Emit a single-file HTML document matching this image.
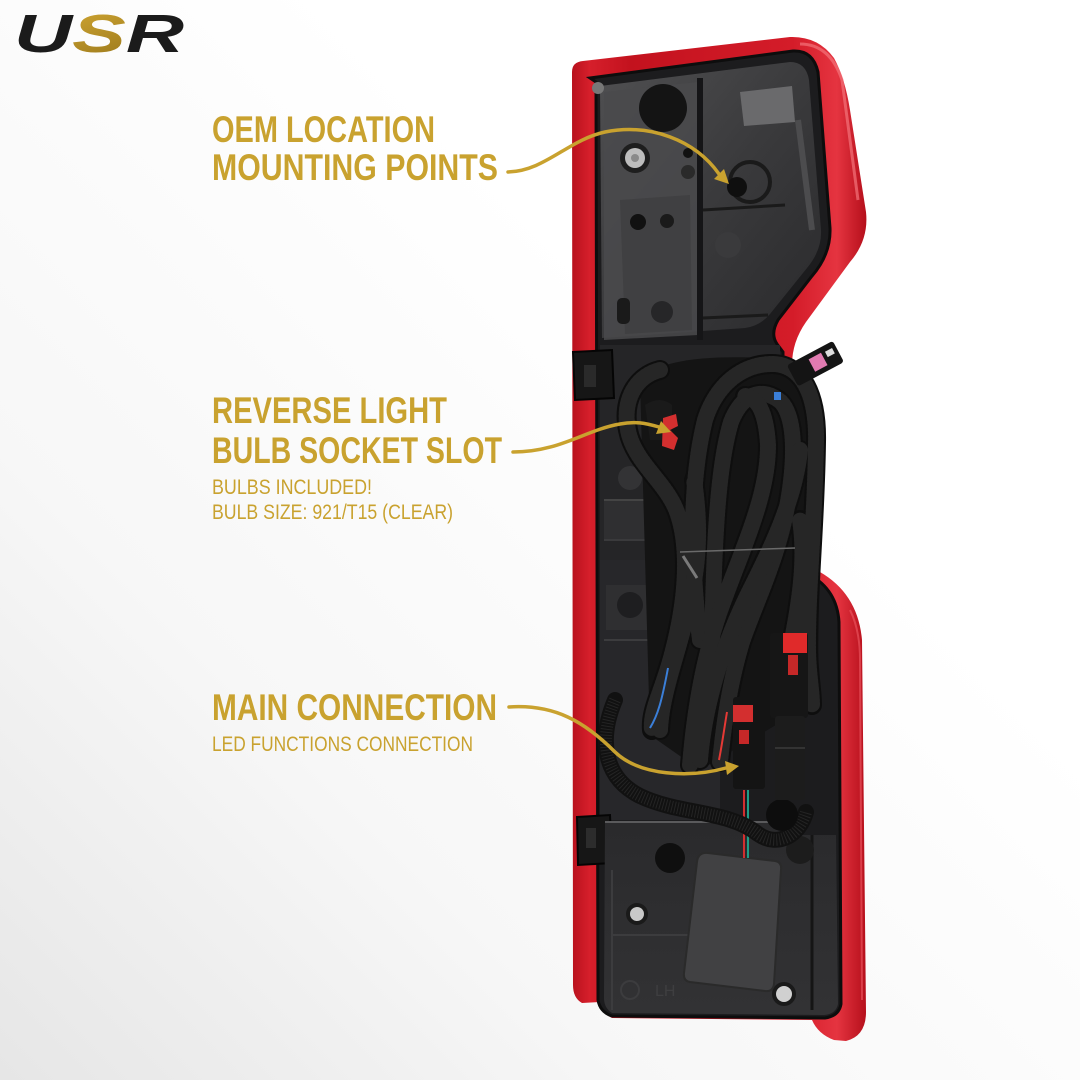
<!DOCTYPE html>
<html><head><meta charset="utf-8"><style>
html,body{margin:0;padding:0;background:#fff}
svg{display:block}
</style></head><body>
<svg width="1080" height="1080" viewBox="0 0 1080 1080" xmlns="http://www.w3.org/2000/svg">
<defs>
<linearGradient id="bg" x1="0.65" y1="0.35" x2="0" y2="1">
<stop offset="0" stop-color="#ffffff"/><stop offset="0.55" stop-color="#f7f7f7"/><stop offset="1" stop-color="#e6e6e6"/>
</linearGradient>
<linearGradient id="red" x1="0" y1="0" x2="1" y2="0">
<stop offset="0" stop-color="#b8111d"/><stop offset="0.06" stop-color="#d61f2b"/><stop offset="0.2" stop-color="#c3121e"/>
<stop offset="0.75" stop-color="#d41c29"/><stop offset="0.9" stop-color="#e53440"/><stop offset="1" stop-color="#b50f1b"/>
</linearGradient>
<linearGradient id="gold" x1="0" y1="0" x2="1" y2="1">
<stop offset="0" stop-color="#e0b43a"/><stop offset="1" stop-color="#8a6a14"/>
</linearGradient>
<linearGradient id="panel" x1="0" y1="0" x2="1" y2="1">
<stop offset="0" stop-color="#505052"/><stop offset="0.5" stop-color="#3a3a3c"/><stop offset="1" stop-color="#2a2a2c"/>
</linearGradient>
<linearGradient id="lower" x1="0" y1="0" x2="0" y2="1">
<stop offset="0" stop-color="#2a2a2c"/><stop offset="1" stop-color="#323234"/>
</linearGradient>
</defs>

<rect width="1080" height="1080" fill="url(#bg)"/>

<!-- Logo -->
<text x="14" y="52" font-family="Liberation Sans, sans-serif" font-weight="bold" font-style="italic" font-size="54" textLength="170" lengthAdjust="spacingAndGlyphs"><tspan fill="#1b1b1b">U</tspan><tspan fill="url(#gold)">S</tspan><tspan fill="#1b1b1b">R</tspan></text>

<!-- Red housing silhouette -->
<path d="M572,72 Q572,62 583,61 L790,37 Q818,36 834,58 Q845,78 850,110 L866,212 Q869,240 850,262 L806,322 Q792,342 792,365 L794,530 Q796,556 820,572 Q858,594 862,640 L866,1012 Q866,1036 846,1041 L834,1040 Q818,1034 812,1020 L612,1018 Q600,1012 600,1002 L582,1003 Q573,998 573,985 Z" fill="url(#red)"/>
<path d="M800,44 Q830,44 842,80 L858,200" fill="none" stroke="#f3737a" stroke-width="3" opacity="0.7"/>
<path d="M850,610 Q860,630 860,660 L862,1000" fill="none" stroke="#ef5a64" stroke-width="2" opacity="0.6"/>

<!-- Dark inner housing -->
<path d="M590,78 L793,51 Q813,50 818,72 L830,228 Q831,254 812,276 L778,320 Q770,334 777,344 L783,352 L783,535 Q786,560 810,575 Q837,590 839,622 L841,1004 Q839,1016 825,1018 L612,1016 Q600,1012 598,1000 L596,82 Z" fill="#1c1c1e" stroke="#0d0d0d" stroke-width="3"/>

<!-- Upper compartment -->
<path d="M600,86 L790,62 Q806,62 809,80 L821,230 Q822,250 807,268 L770,314 Q760,326 745,328 L602,338 Z" fill="url(#panel)"/>
<path d="M604,92 L698,82 L698,335 L604,340 Z" fill="#4a4a4c" opacity="0.85"/>
<path d="M620,200 L690,195 L692,330 L625,334 Z" fill="#404042"/>
<rect x="697" y="78" width="6" height="262" fill="#151517"/>
<path d="M740,92 L792,86 L795,122 L744,126 Z" fill="#6a6a6c"/>
<path d="M703,210 L785,205" stroke="#1a1a1a" stroke-width="3"/>
<path d="M703,318 L768,315" stroke="#1a1a1a" stroke-width="3"/>
<path d="M798,120 L812,230" stroke="#4c4c4e" stroke-width="6"/>
<circle cx="663" cy="108" r="24" fill="#141414"/>
<circle cx="635" cy="158" r="15" fill="#1e1e1e"/>
<circle cx="635" cy="158" r="10" fill="#bdbdbd"/>
<circle cx="635" cy="158" r="4" fill="#8a8a8a"/>
<circle cx="750" cy="182" r="20" fill="none" stroke="#1a1a1a" stroke-width="4"/>
<circle cx="737" cy="187" r="10" fill="#0f0f0f"/>
<circle cx="638" cy="222" r="8" fill="#111"/>
<circle cx="667" cy="221" r="7" fill="#1a1a1a"/>
<circle cx="688" cy="172" r="7" fill="#2a2a2a"/>
<circle cx="688" cy="153" r="5" fill="#111"/>
<circle cx="728" cy="245" r="13" fill="#3a3a3c"/>
<circle cx="662" cy="312" r="11" fill="#262628"/>
<rect x="617" y="298" width="13" height="26" rx="5" fill="#1a1a1a"/>
<circle cx="598" cy="88" r="6" fill="#777"/>

<!-- mid-left region details -->
<rect x="600" y="345" width="180" height="220" fill="#252527"/>
<rect x="604" y="500" width="80" height="40" fill="#2f2f31"/>
<path d="M604,500 L684,500" stroke="#444" stroke-width="2"/>
<path d="M604,540 L684,540" stroke="#3a3a3c" stroke-width="2"/>
<circle cx="630" cy="478" r="12" fill="#333335"/>
<rect x="600" y="560" width="120" height="260" fill="#27272a"/>
<rect x="606" y="585" width="70" height="45" fill="#2f2f31"/>
<circle cx="630" cy="605" r="13" fill="#1e1e20"/>
<circle cx="662" cy="557" r="10" fill="#0f0f0f"/>
<path d="M604,640 L700,640" stroke="#3c3c3e" stroke-width="2"/>

<!-- Left clips -->
<path d="M573,352 L612,350 L614,398 L575,400 Z" fill="#161616" stroke="#050505" stroke-width="2"/>
<rect x="584" y="365" width="12" height="22" fill="#2a2a2a"/>
<path d="M577,817 L610,815 L612,863 L578,865 Z" fill="#161616" stroke="#050505" stroke-width="2"/>
<rect x="586" y="828" width="10" height="20" fill="#2c2c2c"/>

<!-- Lower section -->
<path d="M605,822 L775,822 L800,835 L836,835 L838,1004 Q836,1014 824,1015 L612,1013 Q604,1008 604,998 Z" fill="url(#lower)"/>
<path d="M605,822 L770,822" stroke="#5a5a5c" stroke-width="2"/>
<path d="M612,870 L612,1010 M612,935 L690,935" stroke="#3c3c3e" stroke-width="2"/>
<path d="M812,835 L812,1010" stroke="#151515" stroke-width="3"/>
<circle cx="800" cy="850" r="14" fill="#1c1c1c"/>
<circle cx="670" cy="858" r="15" fill="#0f0f0f"/>
<circle cx="637" cy="914" r="11" fill="#1a1a1a"/>
<circle cx="637" cy="914" r="7" fill="#c8c8c8"/>
<circle cx="784" cy="994" r="12" fill="#1a1a1a"/>
<circle cx="784" cy="994" r="8" fill="#d0d0d0"/>
<circle cx="630" cy="990" r="9" fill="none" stroke="#3c3c3e" stroke-width="2"/>
<text x="655" y="996" font-family="Liberation Sans, sans-serif" font-size="16" fill="#3e3e40">LH</text>
<!-- module box -->
<path d="M708,853 L775,861 Q782,862 781,870 L774,984 Q773,992 765,991 L690,982 Q683,981 684,973 L697,862 Q698,852 708,853 Z" fill="#414143" stroke="#2a2a2a" stroke-width="2"/>
<path d="M744,790 L744,858" stroke="#d32f2f" stroke-width="2"/>
<path d="M748,790 L748,858" stroke="#1e9e86" stroke-width="2"/>

<!-- dark mass behind tubes -->
<path d="M640,380 C660,360 700,355 770,358 C805,360 820,390 820,440 L818,700 L700,770 L650,735 Z" fill="#141414"/>

<!-- braided cable -->
<path d="M615,700 C598,740 604,778 640,796 C680,815 728,810 758,834 C778,848 800,835 806,812" fill="none" stroke="#111" stroke-width="16" stroke-linecap="round"/>
<path d="M615,700 C598,740 604,778 640,796 C680,815 728,810 758,834 C778,848 800,835 806,812" fill="none" stroke="#242424" stroke-width="12" stroke-dasharray="1 2"/>
<circle cx="782" cy="815" r="16" fill="#0d0d0d"/>

<!-- Tubes -->
<g fill="none" stroke-linecap="round">
<g stroke="#0e0e0e" stroke-width="20">
<path d="M660,370 C636,376 622,400 628,430 C634,462 666,482 677,512 C690,548 686,600 673,650 C663,690 650,710 652,730"/>
<path d="M700,640 C690,560 690,480 705,420 C716,385 742,364 772,364 C802,364 817,395 816,442 C815,520 808,585 808,645 C808,672 812,690 812,705"/>
<path d="M712,645 C714,560 716,472 731,422 C742,394 762,386 781,402 C796,418 796,462 786,512 C776,562 756,602 742,642 C730,682 724,722 720,762"/>
<path d="M690,765 C695,705 705,650 724,600 C744,545 768,495 768,445 C766,412 758,398 745,396"/>
<path d="M660,730 C662,690 680,650 690,600 C700,560 700,520 694,480"/>
<path d="M790,650 C800,600 806,560 800,520"/>
<path d="M700,760 C705,700 725,640 750,590 C770,550 795,500 800,450"/>
</g>
<g stroke="#262626" stroke-width="16" stroke-dasharray="1.2 2.6">
<path d="M660,370 C636,376 622,400 628,430 C634,462 666,482 677,512 C690,548 686,600 673,650 C663,690 650,710 652,730"/>
<path d="M700,640 C690,560 690,480 705,420 C716,385 742,364 772,364 C802,364 817,395 816,442 C815,520 808,585 808,645 C808,672 812,690 812,705"/>
<path d="M712,645 C714,560 716,472 731,422 C742,394 762,386 781,402 C796,418 796,462 786,512 C776,562 756,602 742,642 C730,682 724,722 720,762"/>
<path d="M690,765 C695,705 705,650 724,600 C744,545 768,495 768,445 C766,412 758,398 745,396"/>
<path d="M660,730 C662,690 680,650 690,600 C700,560 700,520 694,480"/>
<path d="M790,650 C800,600 806,560 800,520"/>
<path d="M700,760 C705,700 725,640 750,590 C770,550 795,500 800,450"/>
</g>
</g>
<!-- wires -->
<path d="M668,668 C662,700 658,715 650,728" fill="none" stroke="#3b7fd8" stroke-width="2"/>
<path d="M727,712 C724,730 722,745 719,760" fill="none" stroke="#e53935" stroke-width="2"/>
<rect x="774" y="392" width="7" height="8" fill="#3b7fd8"/>
<!-- zip tie -->
<path d="M680,552 L795,548" stroke="#6a6a6a" stroke-width="1.5"/>
<path d="M683,556 L697,578" stroke="#7a7a7a" stroke-width="3"/>

<!-- reverse socket -->
<path d="M645,405 Q660,395 672,405 L672,440 L650,440 Z" fill="#1a1a1a"/>
<path d="M663,418 L676,414 L678,426 L670,430 L678,438 L674,450 L662,446 Z" fill="#d32f2f"/>

<!-- upper right connector -->
<g transform="rotate(-28 815 365)">
<rect x="790" y="352" width="52" height="24" rx="3" fill="#141414"/>
<rect x="812" y="357" width="14" height="14" fill="#e07ab0"/>
<rect x="830" y="358" width="8" height="6" fill="#ddd"/>
</g>

<!-- main connectors -->
<rect x="770" y="633" width="38" height="85" rx="3" fill="#161616"/>
<rect x="783" y="633" width="24" height="20" fill="#e02a2a"/>
<rect x="788" y="655" width="10" height="20" fill="#c62828"/>
<rect x="775" y="716" width="30" height="84" rx="3" fill="#1c1c1c"/>
<path d="M775,748 L805,748" stroke="#333" stroke-width="2"/>
<rect x="733" y="697" width="32" height="92" rx="3" fill="#141414"/>
<rect x="733" y="705" width="20" height="17" fill="#d32f2f"/>
<rect x="739" y="730" width="10" height="14" fill="#c62828"/>

<!-- Gold arrows -->
<g fill="none" stroke="#c9a22f" stroke-width="3.5" stroke-linecap="round">
<path d="M508,172 C545,171 568,140 605,132 C650,123 695,140 719,174"/>
<path d="M513,452 C560,452 585,430 620,424 C635,421 645,423 659,427"/>
<path d="M509,707 C555,704 585,722 615,752 C640,776 690,778 726,768"/>
</g>
<g fill="#c9a22f">
<polygon points="729,184 714,179 724,169"/>
<polygon points="671,432 656,434 661,421"/>
<polygon points="739,766 727,775 725,761"/>
</g>

<!-- Labels -->
<g font-family="Liberation Sans, sans-serif" fill="#c9a22f">
<text x="212" y="142" font-size="37" font-weight="bold" textLength="223" lengthAdjust="spacingAndGlyphs">OEM LOCATION</text>
<text x="212" y="180" font-size="37" font-weight="bold" textLength="286" lengthAdjust="spacingAndGlyphs">MOUNTING POINTS</text>
<text x="212" y="423" font-size="37" font-weight="bold" textLength="235" lengthAdjust="spacingAndGlyphs">REVERSE LIGHT</text>
<text x="212" y="463" font-size="37" font-weight="bold" textLength="290" lengthAdjust="spacingAndGlyphs">BULB SOCKET SLOT</text>
<text x="212" y="494" font-size="21" textLength="160" lengthAdjust="spacingAndGlyphs">BULBS INCLUDED!</text>
<text x="212" y="519" font-size="21" textLength="241" lengthAdjust="spacingAndGlyphs">BULB SIZE: 921/T15 (CLEAR)</text>
<text x="212" y="720" font-size="37" font-weight="bold" textLength="285" lengthAdjust="spacingAndGlyphs">MAIN CONNECTION</text>
<text x="212" y="751" font-size="21" textLength="261" lengthAdjust="spacingAndGlyphs">LED FUNCTIONS CONNECTION</text>
</g>
</svg>
</body></html>
